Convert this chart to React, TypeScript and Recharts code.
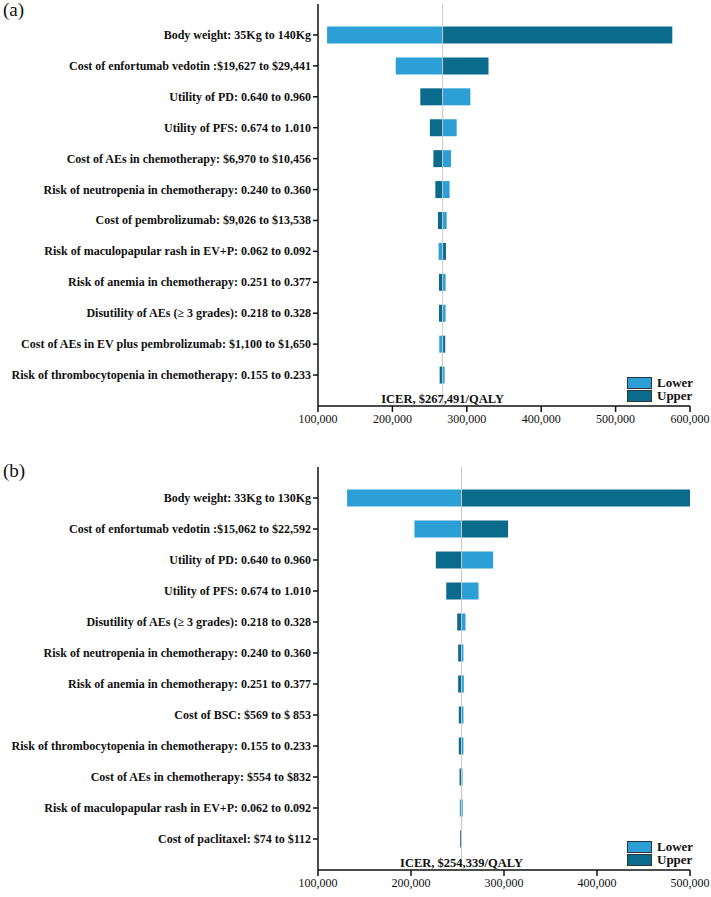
import React from "react";
import {
  BarChart,
  Bar,
  XAxis,
  YAxis,
  ReferenceLine,
  Legend,
} from "recharts";

// panel (a)
const paramsA = [
  "Body weight: 35Kg to 140Kg",
  "Cost of enfortumab vedotin :$19,627 to $29,441",
  "Utility of PD: 0.640 to 0.960",
  "Utility of PFS: 0.674 to 1.010",
  "Cost of AEs in chemotherapy: $6,970 to $10,456",
  "Risk of neutropenia in chemotherapy: 0.240 to 0.360",
  "Cost of pembrolizumab: $9,026 to $13,538",
  "Risk of maculopapular rash in EV+P: 0.062 to 0.092",
  "Risk of anemia in chemotherapy: 0.251 to 0.377",
  "Disutility of AEs (\u2265 3 grades): 0.218 to 0.328",
  "Cost of AEs in EV plus pembrolizumab: $1,100 to $1,650",
  "Risk of thrombocytopenia in chemotherapy: 0.155 to 0.233",
];
const lowerA = [112200, 204500, 304800, 286400, 278800, 276900, 272900, 262100, 271500, 271500, 263000, 270200];
const upperA = [576200, 329200, 237500, 250400, 255100, 257700, 261200, 272000, 262600, 262600, 271000, 263500];
const baseA = 267491;
const ticksA = [100000, 200000, 300000, 400000, 500000, 600000];

// panel (b)
const paramsB = [
  "Body weight: 33Kg to 130Kg",
  "Cost of enfortumab vedotin :$15,062 to $22,592",
  "Utility of PD: 0.640 to 0.960",
  "Utility of PFS: 0.674 to 1.010",
  "Disutility of AEs (\u2265 3 grades): 0.218 to 0.328",
  "Risk of neutropenia in chemotherapy: 0.240 to 0.360",
  "Risk of anemia in chemotherapy: 0.251 to 0.377",
  "Cost of BSC: $569 to $ 853",
  "Risk of thrombocytopenia in chemotherapy: 0.155 to 0.233",
  "Cost of AEs in chemotherapy: $554 to $832",
  "Risk of maculopapular rash in EV+P: 0.062 to 0.092",
  "Cost of paclitaxel: $74 to $112",
];
const lowerB = [131300, 203700, 288300, 272600, 258600, 256400, 256800, 256400, 256400, 255400, 252500, 254600];
const upperB = [502900, 304400, 226700, 237900, 249700, 250700, 250700, 251400, 251400, 252200, 255400, 252900];
const baseB = 254339;
const ticksB = [100000, 200000, 300000, 400000, 500000];

const LIGHT = "#2b9fd6";
const DARK = "#0a6b8c";
const FONT = "'Liberation Serif', 'Times New Roman', serif";

const buildRows = (names: string[], lo: number[], hi: number[], base: number) =>
  names.map((name, i) => ({
    name,
    lowerRange: [Math.min(base, lo[i]), Math.max(base, lo[i])],
    upperRange: [Math.min(base, hi[i]), Math.max(base, hi[i])],
  }));

const LegendBox = ({ payload }: any) => (
  <div style={{ fontFamily: FONT }}>
    {(payload || []).map((p: any) => (
      <div key={p.value} style={{ display: "flex", alignItems: "center", height: 13.5 }}>
        <span
          style={{
            display: "inline-block",
            width: 23,
            height: 10,
            background: p.color,
            border: "1px solid #333",
            marginRight: 5,
          }}
        />
        <span style={{ fontSize: 13, fontWeight: "bold", color: "#111" }}>{p.value}</span>
      </div>
    ))}
  </div>
);

// plain label, no wrapping
const ParamTick = ({ x, y, payload }: any) => (
  <text
    x={x}
    y={y}
    dy={4}
    textAnchor="end"
    fill="#111"
    fontSize={12}
    fontWeight="bold"
    fontFamily={FONT}
  >
    {payload.value}
  </text>
);

function Tornado({
  rows,
  base,
  ticks,
  height,
  top,
  plotH,
  legendTop,
}: {
  rows: any[];
  base: number;
  ticks: number[];
  height: number;
  top: number;
  plotH: number;
  legendTop: number;
}) {
  const xMax = ticks[ticks.length - 1];
  return (
    <BarChart
      width={711}
      height={height}
      data={rows}
      layout="vertical"
      margin={{ top, right: 21, left: 0, bottom: 0 }}
    >
      <XAxis
        type="number"
        domain={[100000, xMax]}
        ticks={ticks}
        allowDataOverflow
        height={height - top - plotH}
        tickSize={6}
        stroke="#111"
        strokeWidth={1.5}
        tick={{ fill: "#111", fontSize: 12, fontFamily: FONT }}
        tickFormatter={(v: number) => v.toLocaleString("en-US")}
      />
      <YAxis
        yAxisId="lo"
        type="category"
        dataKey="name"
        width={318}
        padding={{ top: 15.5, bottom: 15.5 }}
        tickSize={5}
        stroke="#111"
        strokeWidth={1.5}
        interval={0}
        tick={<ParamTick />}
      />
      <YAxis
        yAxisId="hi"
        type="category"
        dataKey="name"
        hide
        width={0}
        orientation="right"
        padding={{ top: 15.5, bottom: 15.5 }}
      />
      <Bar
        yAxisId="lo"
        dataKey="lowerRange"
        name="Lower"
        fill={LIGHT}
        barSize={17}
        isAnimationActive={false}
      />
      <Bar
        yAxisId="hi"
        dataKey="upperRange"
        name="Upper"
        fill={DARK}
        barSize={17}
        isAnimationActive={false}
      />
      <ReferenceLine
        yAxisId="lo"
        x={base}
        stroke="#c8c8c8"
        strokeWidth={1}
        label={{
          value: `ICER, $${base.toLocaleString("en-US")}/QALY`,
          position: "insideBottom",
          offset: 3,
          fill: "#111",
          fontSize: 12.5,
          fontWeight: "bold",
          fontFamily: FONT,
        }}
      />
      <Legend
        layout="horizontal"
        verticalAlign="middle"
        align="center"
        content={<LegendBox />}
        wrapperStyle={{ left: 627, top: legendTop, width: 80 }}
      />
    </BarChart>
  );
}

export default function App() {
  const rowsA = buildRows(paramsA, lowerA, upperA, baseA);
  const rowsB = buildRows(paramsB, lowerB, upperB, baseB);
  return (
    <div
      style={{
        position: "absolute",
        left: 0,
        top: 0,
        width: 711,
        height: 897,
        background: "#fff",
        fontFamily: FONT,
      }}
    >
      <div style={{ position: "absolute", left: 3, top: -1, fontSize: 19, color: "#111" }}>(a)</div>
      <div style={{ position: "absolute", left: 3, top: 460, fontSize: 19, color: "#111" }}>(b)</div>
      <div style={{ position: "absolute", left: 0, top: 0 }}>
        <Tornado rows={rowsA} base={baseA} ticks={ticksA} height={440} top={4} plotH={402} legendTop={376} />
      </div>
      <div style={{ position: "absolute", left: 0, top: 445 }}>
        <Tornado rows={rowsB} base={baseB} ticks={ticksB} height={452} top={22} plotH={403} legendTop={395} />
      </div>
    </div>
  );
}
